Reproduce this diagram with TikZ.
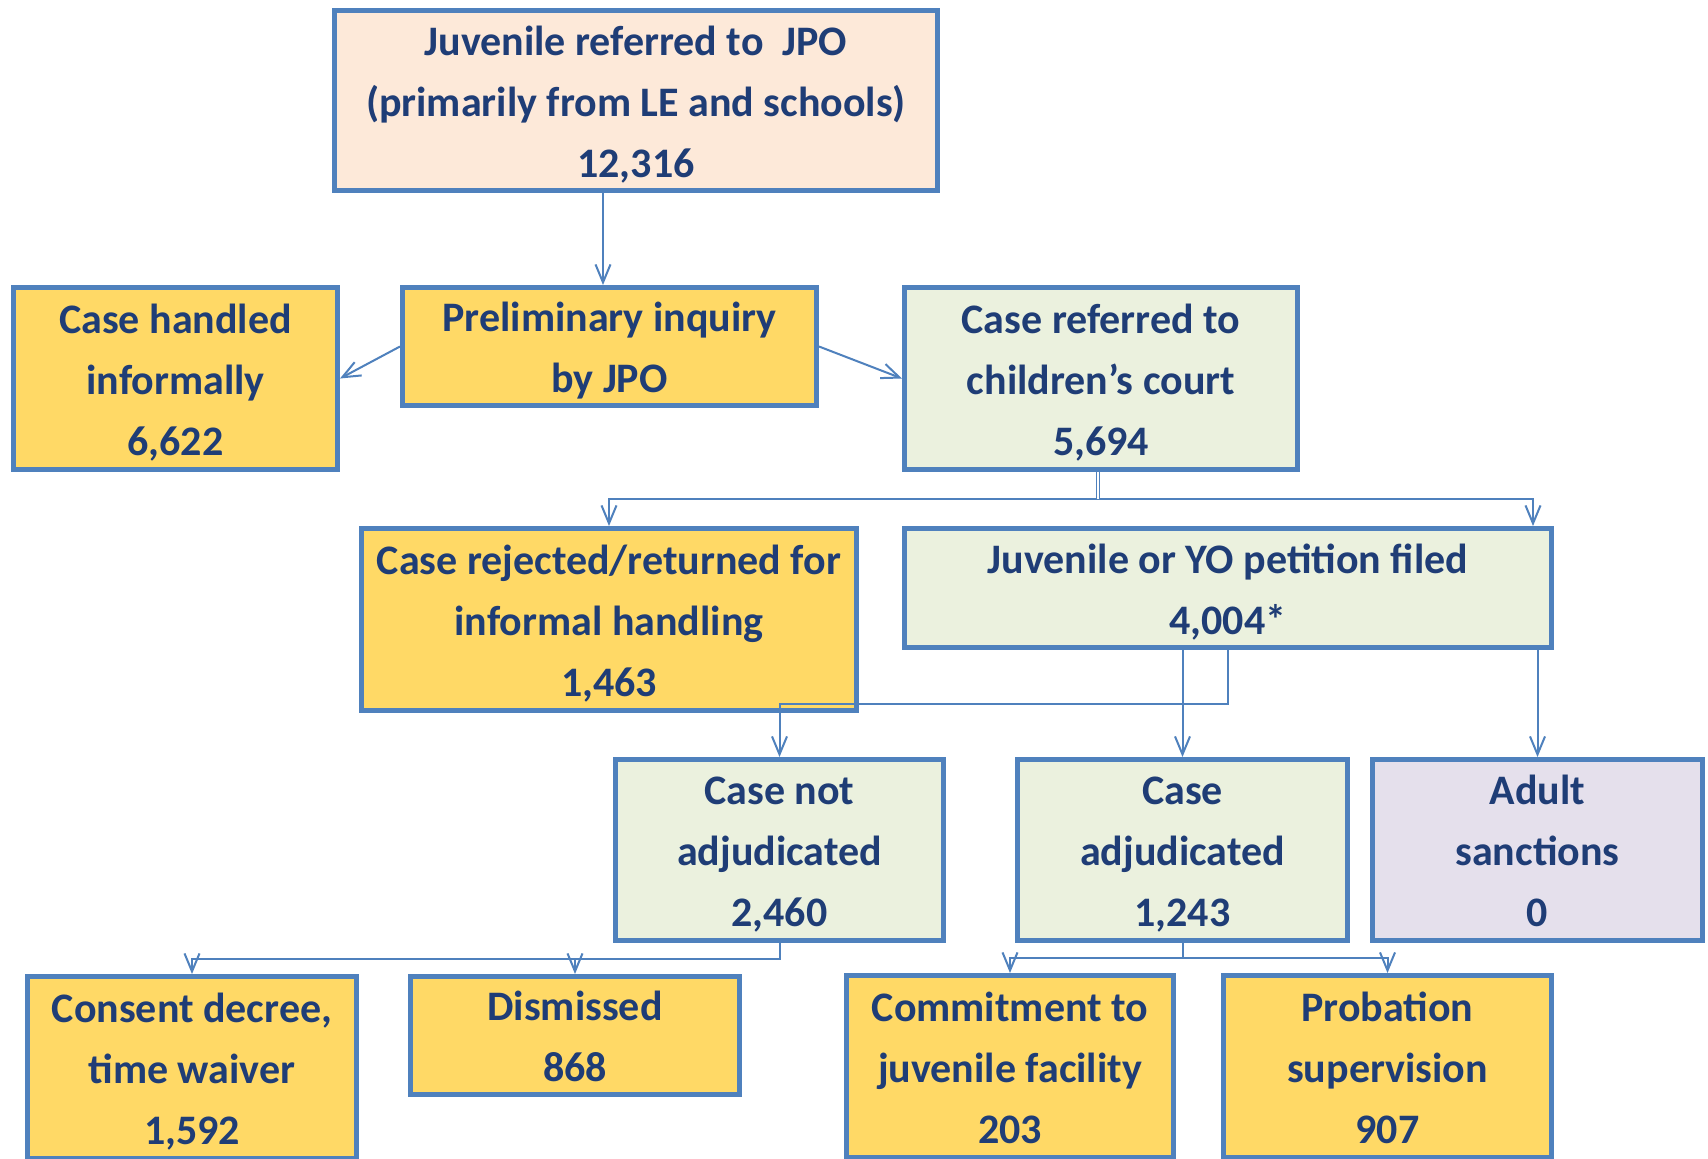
\documentclass[tikz,border=0pt]{standalone}
\usepackage{fontspec}
\setmainfont{Carlito}
\usetikzlibrary{arrows.meta}
\definecolor{bord}{HTML}{4F81BD}
\definecolor{txt}{HTML}{1F3D76}
\definecolor{yel}{HTML}{FFD966}
\definecolor{grn}{HTML}{EBF1DE}
\definecolor{pch}{HTML}{FDE9D9}
\definecolor{lav}{HTML}{E5E0EC}
\newcommand{\topst}{\rule{0pt}{43pt}}
\newcommand{\botst}{\rule[-12pt]{0pt}{0pt}}
\begin{document}
\begin{tikzpicture}[x=1pt,y=-1pt,
 box/.style={draw=bord, line width=5pt, rectangle, inner sep=0pt, align=center, text=txt,
   font=\fontsize{42}{61}\selectfont\bfseries},
 conn/.style={draw=bord, line width=2pt, -{Straight Barb[length=18pt,width=15pt]}},
 dbl/.style={draw=bord, line width=1.2pt, double=white, double distance=2pt},
]
\useasboundingbox (0,0) rectangle (1708,1159);
\clip (0,0) rectangle (1708,1159);
\fill[white] (0,0) rectangle (1708,1159);

\node[box, fill=pch, minimum width=603pt, minimum height=180pt] (top) at (636,100.5)
 {Juvenile referred to\ \ JPO\topst\\(primarily from LE and schools)\\12,316\botst};
\node[box, fill=yel, minimum width=324pt, minimum height=182pt] (handled) at (175.5,378.5)
 {Case handled\topst\\informally\\6,622\botst};
\node[box, fill=yel, minimum width=414pt, minimum height=118pt] (prelim) at (609.5,346.5)
 {Preliminary inquiry\topst\\by JPO\botst};
\node[box, fill=grn, minimum width=393pt, minimum height=182pt] (referred) at (1101,378.5)
 {Case referred to\topst\\children’s court\\5,694\botst};
\node[box, fill=yel, minimum width=495pt, minimum height=182pt] (rejected) at (609,619.5)
 {Case rejected/returned for\topst\\informal handling\\1,463\botst};
\node[box, fill=grn, minimum width=647pt, minimum height=119pt] (petition) at (1228,588)
 {Juvenile or YO petition filed\topst\\4,004*\botst};
\node[box, fill=grn, minimum width=328pt, minimum height=181pt] (notadj) at (779.5,850)
 {Case not\topst\\adjudicated\\2,460\botst};
\node[box, fill=grn, minimum width=330pt, minimum height=181pt] (adj) at (1182.5,850)
 {Case\topst\\adjudicated\\1,243\botst};
\node[box, fill=lav, minimum width=330pt, minimum height=181pt] (adult) at (1537.5,850)
 {Adult\topst\\sanctions\\0\botst};
\node[box, fill=yel, minimum width=329pt, minimum height=182pt] (consent) at (192,1067.5)
 {Consent decree,\topst\\time waiver\\1,592\botst};
\node[box, fill=yel, minimum width=329pt, minimum height=118pt] (dismissed) at (575,1035.5)
 {Dismissed\topst\\868\botst};
\node[box, fill=yel, minimum width=327pt, minimum height=182pt] (commit) at (1010,1066.5)
 {Commitment to\topst\\juvenile facility\\203\botst};
\node[box, fill=yel, minimum width=328pt, minimum height=182pt] (probation) at (1387.5,1066.5)
 {Probation\topst\\supervision\\907\botst};

% connectors
\coordinate (a1) at (603,0);
\draw[conn] (top.south -| a1) -- (prelim.north -| a1);
\draw[conn] (prelim.west) -- (handled.east);
\draw[conn] (prelim.east) -- (referred.west);

\coordinate (s1) at (1098,499);
\coordinate (s2) at (1533,0);
\draw[conn] (s1) -| (rejected.north);
\draw[conn] (s1) -| (petition.north -| s2);
\draw[dbl] (referred.south -| s1) -- (s1);

\coordinate (j1) at (0,704);
\draw[conn] (petition.south -| adj.north) -- (adj.north);
\draw[conn] (petition.south) -- (petition.south |- j1) -| (notadj.north);
\draw[conn] (petition.south -| adult.north) -- (adult.north);

\coordinate (j2) at (0,959);
\draw[conn] (notadj.south) -- (notadj.south |- j2) -| (consent.north);
\draw[conn] (notadj.south |- j2) -| (dismissed.north);

\coordinate (j3) at (0,958);
\draw[conn] (adj.south) -- (adj.south |- j3) -| (commit.north);
\draw[conn] (adj.south |- j3) -| (probation.north);
\end{tikzpicture}
\end{document}
